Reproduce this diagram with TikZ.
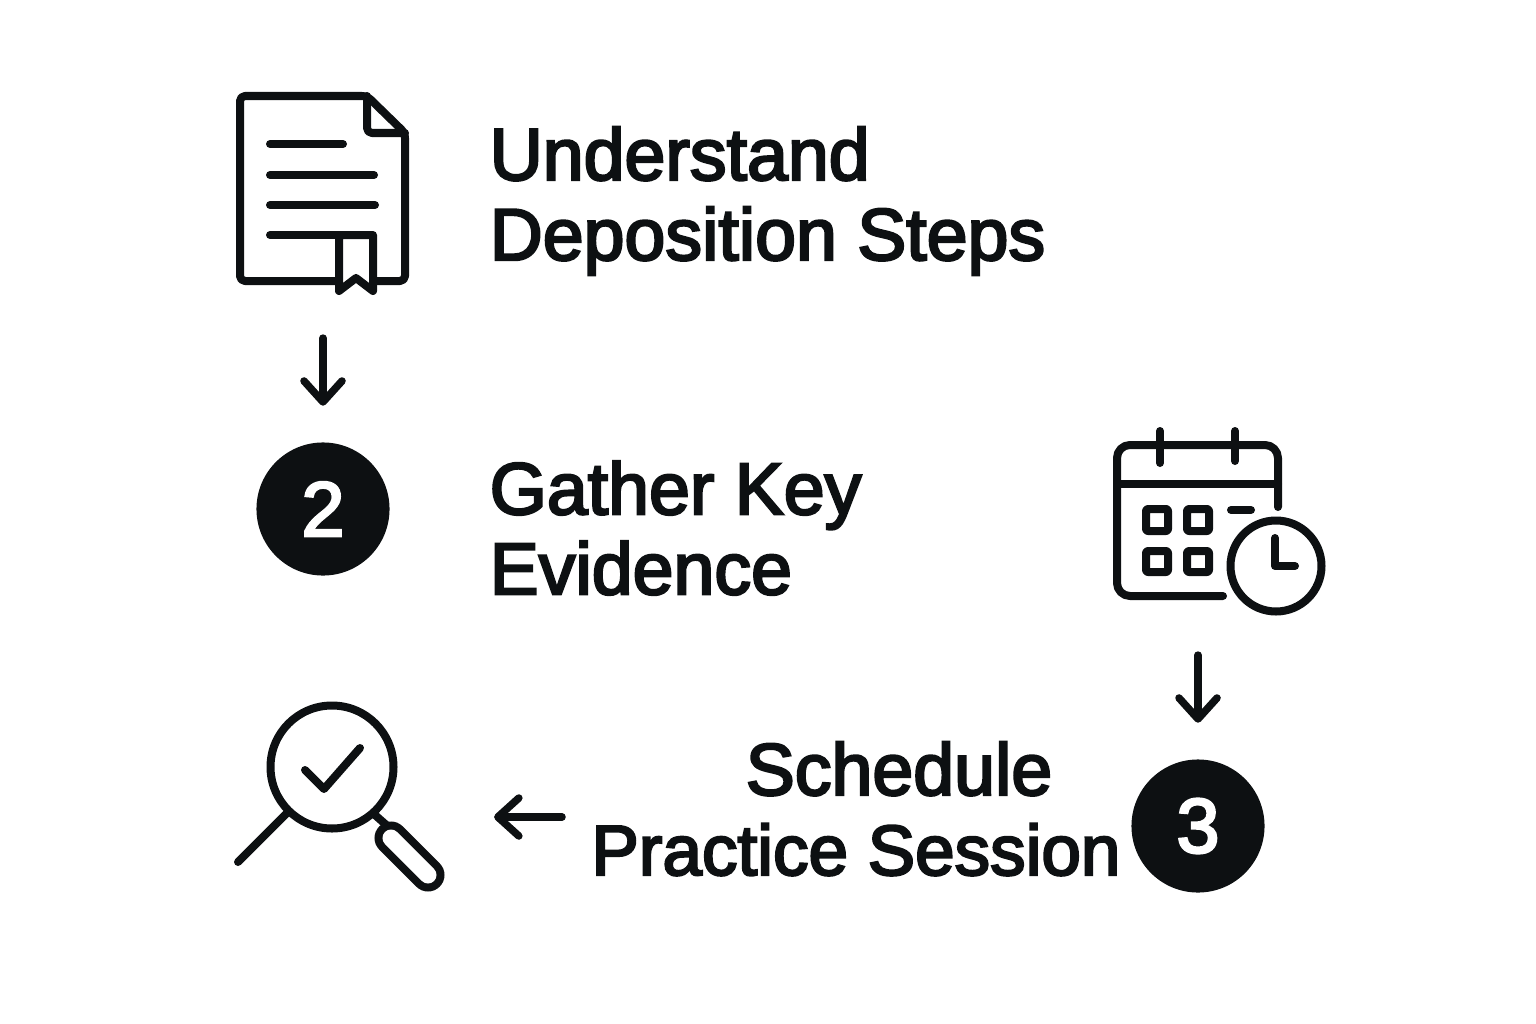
\documentclass[tikz,border=0pt]{standalone}
\usepackage{fontspec}
\setmainfont[FakeBold=3.2]{Liberation Sans}
\usetikzlibrary{arrows.meta}
\definecolor{inkblack}{HTML}{0D1012}
\tikzset{
  iconline/.style={draw=inkblack, line width=.08cm, line cap=round, line join=round},
  flowarrow/.style={draw=inkblack, line width=.075cm, line cap=round, -{Straight Barb[length=.21cm,width=.38cm,round]}},
  iconbox/.style={inner sep=0pt, outer sep=0pt},
  steptext/.style={inner sep=0pt, align=left, anchor=west, text=inkblack, font=\fontsize{20.9}{22.76}\selectfont},
  stepdisc/.style={circle, fill=inkblack, text=white, inner sep=0pt, minimum size=1.33cm, font=\fontsize{22}{24}\selectfont}
}
\begin{document}
\begin{tikzpicture}[x=.01cm,y=-.01cm]
\useasboundingbox (0,0) rectangle (1536,1024);
\node[iconbox, minimum width=1.7cm, minimum height=1.95cm] (docicon) at (323,190) {};
\node[iconbox, minimum width=2.54cm, minimum height=1.87cm] (calicon) at (1198,521.5) {};
\node[iconbox, minimum width=2.06cm, minimum height=1.46cm] (lensicon) at (339,817) {};
\node[stepdisc] (disctwo) at (323,509) {2};
\node[stepdisc] (discthree) at (1198,826) {3};
\node[steptext] (understand) at (489,201) {Understand\\Deposition Steps};
\node[steptext] (gather) at (489,528) {Gather Key\\Evidence};
\node[steptext, anchor=base] (schedule) at (899,795) {Schedule};
\node[steptext, anchor=base, font=\fontsize{20.2}{22.76}\selectfont] (practice) at (856,875) {Practice Session};
\coordinate (backstart) at (562,817);
\draw[iconline, rounded corners=.05cm] (337,281) -- (240,281) -- (240,96) -- (367,96) -- (405,133) -- (405,281) -- (377,281);
\draw[iconline, rounded corners=.05cm] (367,96) -- (367,133) -- (405,133);
\draw[iconline] (270,144) -- (343,144);
\draw[iconline] (270,175) -- (374,175);
\draw[iconline] (270,205) -- (375,205);
\draw[iconline] (270,235) -- (339,235);
\draw[iconline] (339,291) -- (339,235) -- (373,235) -- (373,291) -- (356,278) -- cycle;
\draw[iconline, rounded corners=.13cm] (1223,596) -- (1117,596) -- (1117,445) -- (1278,445) -- (1278,507);
\draw[iconline] (1117,484) -- (1278,484);
\draw[iconline] (1160,431) -- (1160,463);
\draw[iconline] (1235,431) -- (1235,461);
\draw[iconline, rounded corners=.02cm] (1146,509) rectangle (1168,531);
\draw[iconline, rounded corners=.02cm] (1187,509) rectangle (1209,531);
\draw[iconline, rounded corners=.02cm] (1146,551) rectangle (1168,572);
\draw[iconline, rounded corners=.02cm] (1187,551) rectangle (1209,572);
\draw[iconline] (1231,510) -- (1251,510);
\draw[iconline] (1276,566) circle (45.5);
\draw[iconline] (1275,538) -- (1275,566) -- (1295,566);
\draw[iconline] (332,767) circle (61.5);
\draw[iconline] (305,770) -- (324,789) -- (360,748);
\draw[iconline] (287,813) -- (238,862);
\draw[iconline] (375,815) -- (392,830);
\draw[iconline, double=white, double distance=.17cm] (391,838) -- (428,875);
\draw[flowarrow, shorten <=.505cm, shorten >=.36cm] (docicon.south) -- (disctwo.north);
\draw[flowarrow, shorten <=.4cm, shorten >=.36cm] (calicon.south) -- (discthree.north);
\draw[flowarrow, shorten >=.52cm] (backstart) -- (lensicon.east);
\end{tikzpicture}
\end{document}
